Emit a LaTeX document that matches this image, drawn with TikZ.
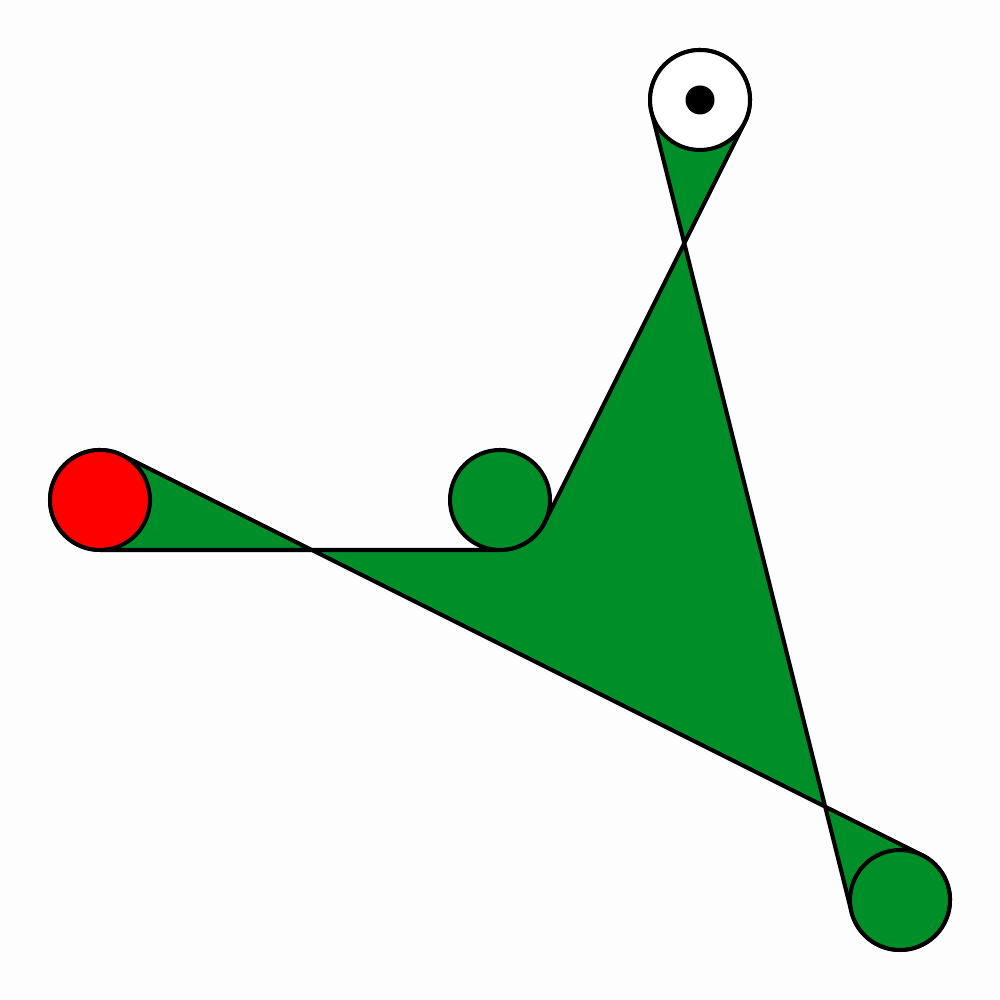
\documentclass[tikz,border=0pt]{standalone}
\definecolor{beltgreen}{RGB}{0,142,40}
\definecolor{bg}{RGB}{253,253,253}
\tikzset{
  pulley/.style={circle, draw=black, line width=1.15pt, minimum size=1cm, inner sep=0pt},
  belt/.style={draw=black, fill=beltgreen, line width=1.15pt, line join=round}
}
\begin{document}
\begin{tikzpicture}
\fill[bg] (0,0) rectangle (10,10);
\useasboundingbox (0,0) rectangle (10,10);
\coordinate (R) at (1,5);
\coordinate (M) at (5,5);
\coordinate (T) at (7,9);
\coordinate (B) at (9,1);
\path[belt] (1,4.5) -- (5,4.5)
  arc[start angle=-90, end angle=-26.565, radius=0.5]
  -- ([shift={(-26.565:0.5)}]T)
  arc[start angle=-26.565, end angle=194.036, radius=0.5]
  -- ([shift={(194.036:0.5)}]B)
  arc[start angle=194.036, end angle=423.435, radius=0.5]
  -- ([shift={(63.435:0.5)}]R)
  arc[start angle=63.435, end angle=270, radius=0.5]
  -- cycle;
\node[pulley, fill=red] (red) at (R) {};
\node[pulley, fill=beltgreen] (mid) at (M) {};
\node[pulley, fill=white] (top) at (T) {};
\node[pulley, fill=beltgreen] (bot) at (B) {};
\fill[black] (T) circle (0.145);
\end{tikzpicture}
\end{document}
